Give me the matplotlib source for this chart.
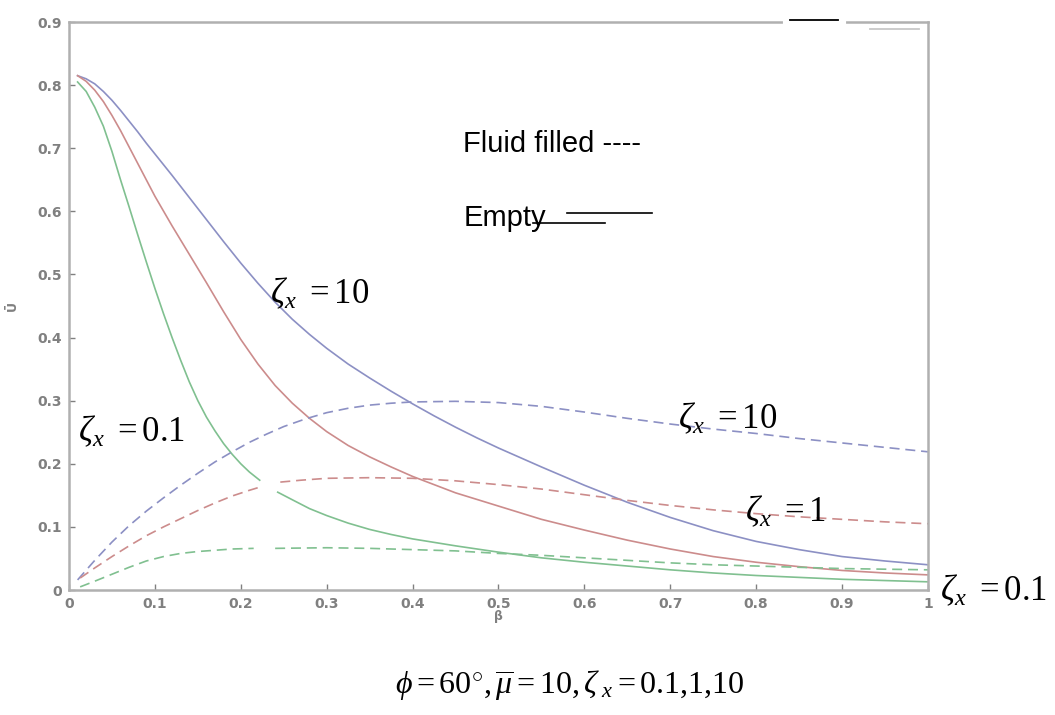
import matplotlib
matplotlib.use("Agg")
import matplotlib.pyplot as plt

plt.rcParams["mathtext.fontset"] = "custom"
plt.rcParams["mathtext.rm"] = "Liberation Serif"
plt.rcParams["mathtext.it"] = "Liberation Serif:italic"

# Empty shell (solid lines), zeta_x = 10, 1, 0.1
beta_e10 = [0.01, 0.02, 0.03, 0.04, 0.05, 0.06, 0.07, 0.08, 0.09, 0.10, 0.12, 0.14, 0.16,
            0.18, 0.20, 0.22, 0.24, 0.26, 0.28, 0.30, 0.325, 0.35, 0.375, 0.40, 0.425,
            0.45, 0.475, 0.5, 0.55, 0.6, 0.65, 0.7, 0.75, 0.8, 0.85, 0.9, 0.95, 1.0]
u_e10 = [0.815, 0.810, 0.802, 0.790, 0.776, 0.760, 0.743, 0.726, 0.708, 0.691, 0.657,
         0.622, 0.587, 0.552, 0.518, 0.486, 0.456, 0.429, 0.405, 0.383, 0.358, 0.336,
         0.315, 0.295, 0.276, 0.258, 0.241, 0.225, 0.195, 0.166, 0.139, 0.115, 0.094,
         0.077, 0.064, 0.053, 0.046, 0.040]

beta_e1 = [0.01, 0.02, 0.03, 0.04, 0.05, 0.06, 0.08, 0.10, 0.12, 0.14, 0.16, 0.18, 0.20,
           0.22, 0.24, 0.26, 0.28, 0.30, 0.325, 0.35, 0.375, 0.40, 0.45, 0.5, 0.55, 0.6,
           0.65, 0.7, 0.75, 0.8, 0.85, 0.9, 0.95, 1.0]
u_e1 = [0.815, 0.806, 0.792, 0.774, 0.752, 0.728, 0.676, 0.624, 0.577, 0.532, 0.487,
        0.441, 0.397, 0.358, 0.324, 0.296, 0.272, 0.251, 0.229, 0.211, 0.195, 0.180,
        0.154, 0.133, 0.112, 0.095, 0.079, 0.065, 0.053, 0.044, 0.037, 0.031, 0.027,
        0.024]

beta_e01a = [0.01, 0.02, 0.03, 0.04, 0.05, 0.06, 0.07, 0.08, 0.09, 0.10, 0.11, 0.12, 0.13,
             0.14, 0.15, 0.16, 0.17, 0.18, 0.19, 0.20, 0.21, 0.222]
u_e01a = [0.805, 0.790, 0.765, 0.735, 0.695, 0.650, 0.607, 0.563, 0.520, 0.478, 0.438,
          0.400, 0.364, 0.330, 0.300, 0.274, 0.252, 0.232, 0.215, 0.200, 0.187, 0.174]
beta_e01b = [0.243, 0.26, 0.28, 0.30, 0.325, 0.35, 0.375, 0.40, 0.45, 0.5, 0.55, 0.6, 0.65,
             0.7, 0.75, 0.8, 0.85, 0.9, 0.95, 1.0]
u_e01b = [0.155, 0.143, 0.129, 0.118, 0.106, 0.096, 0.088, 0.081, 0.070, 0.060, 0.051,
          0.044, 0.038, 0.032, 0.027, 0.023, 0.020, 0.017, 0.015, 0.013]

# Fluid filled (dashed lines)
beta_f10 = [0.01, 0.03, 0.05, 0.07, 0.09, 0.11, 0.13, 0.15, 0.17, 0.19, 0.21, 0.23, 0.25,
            0.275, 0.30, 0.325, 0.35, 0.375, 0.40, 0.45, 0.5, 0.55, 0.6, 0.65, 0.7, 0.75,
            0.8, 0.85, 0.9, 0.95, 1.0]
u_f10 = [0.016, 0.047, 0.076, 0.102, 0.125, 0.146, 0.166, 0.185, 0.203, 0.219, 0.234,
         0.247, 0.259, 0.271, 0.281, 0.288, 0.293, 0.296, 0.298, 0.299, 0.297, 0.291,
         0.282, 0.272, 0.263, 0.255, 0.248, 0.240, 0.233, 0.226, 0.219]

beta_f1a = [0.013, 0.03, 0.05, 0.07, 0.09, 0.11, 0.13, 0.15, 0.17, 0.19, 0.21, 0.222]
u_f1a = [0.019, 0.035, 0.053, 0.070, 0.086, 0.100, 0.113, 0.126, 0.138, 0.149, 0.158,
         0.163]
beta_f1b = [0.246, 0.27, 0.3, 0.35, 0.4, 0.45, 0.5, 0.55, 0.6, 0.65, 0.7, 0.75, 0.8, 0.85,
            0.9, 0.95, 1.0]
u_f1b = [0.171, 0.174, 0.177, 0.178, 0.177, 0.173, 0.167, 0.160, 0.151, 0.142, 0.134,
         0.127, 0.121, 0.116, 0.112, 0.108, 0.105]

beta_f01a = [0.013, 0.03, 0.05, 0.07, 0.09, 0.11, 0.13, 0.15, 0.17, 0.19, 0.215]
u_f01a = [0.005, 0.014, 0.025, 0.036, 0.046, 0.053, 0.058, 0.061, 0.063, 0.065, 0.066]
beta_f01b = [0.24, 0.3, 0.35, 0.4, 0.45, 0.5, 0.55, 0.6, 0.65, 0.7, 0.75, 0.8, 0.85, 0.9,
             0.95, 1.0]
u_f01b = [0.066, 0.067, 0.066, 0.064, 0.062, 0.058, 0.055, 0.051, 0.047, 0.043, 0.040,
          0.038, 0.036, 0.034, 0.033, 0.032]

blue = "#8c90c4"
red = "#cc8c8c"
green = "#80c090"
gray = "#808080"

fig = plt.figure(figsize=(10.55, 7.15), dpi=100)
ax = fig.add_axes([0.0654, 0.1748, 0.8142, 0.7944])

lw = 1.2
dash = (6, 3.5)
ax.plot(beta_e10, u_e10, color=blue, lw=lw)
ax.plot(beta_e1, u_e1, color=red, lw=lw)
ax.plot(beta_e01a, u_e01a, color=green, lw=lw)
ax.plot(beta_e01b, u_e01b, color=green, lw=lw)
ax.plot(beta_f10, u_f10, color=blue, lw=lw, dashes=dash)
ax.plot(beta_f1a, u_f1a, color=red, lw=lw, dashes=dash)
ax.plot(beta_f1b, u_f1b, color=red, lw=lw, dashes=dash)
ax.plot(beta_f01a, u_f01a, color=green, lw=lw, dashes=dash)
ax.plot(beta_f01b, u_f01b, color=green, lw=lw, dashes=dash)

ax.set_xlim(0, 1)
ax.set_ylim(0, 0.9)
ax.set_xticks([0, 0.1, 0.2, 0.3, 0.4, 0.5, 0.6, 0.7, 0.8, 0.9, 1])
ax.set_xticklabels(["0", "0.1", "0.2", "0.3", "0.4", "0.5", "0.6", "0.7", "0.8", "0.9", "1"])
ax.set_yticks([0, 0.1, 0.2, 0.3, 0.4, 0.5, 0.6, 0.7, 0.8, 0.9])
ax.set_yticklabels(["0", "0.1", "0.2", "0.3", "0.4", "0.5", "0.6", "0.7", "0.8", "0.9"])
ax.tick_params(direction="in", length=4, width=1, color=gray, labelcolor=gray,
               labelsize=10, pad=5)
for lab in ax.get_xticklabels() + ax.get_yticklabels():
    lab.set_fontweight("bold")
for sp in ax.spines.values():
    sp.set_color("#b0b0b0")
    sp.set_linewidth(1.8)

ax.set_xlabel("β", color=gray, fontsize=9, fontweight="bold")
ax.xaxis.set_label_coords(0.5, -0.036)
ax.set_ylabel("Ū", color=gray, fontsize=9, fontweight="bold")
ax.yaxis.set_label_coords(-0.058, 0.5)

# odd bits on the top frame
ax.plot([0.834, 0.902], [1.0, 1.0], transform=ax.transAxes, color="white", lw=3,
        clip_on=False, zorder=5)
ax.plot([0.839, 0.895], [1.003, 1.003], transform=ax.transAxes, color="black", lw=1.3,
        clip_on=False, zorder=6)
ax.plot([0.933, 0.99], [0.988, 0.988], transform=ax.transAxes, color="#c8c8c8", lw=1.3,
        clip_on=False, zorder=6)

# curve labels
tfs = 25
ax.text(0.234, 0.455, r"$\zeta_{x}\ =10$", fontsize=tfs)
ax.text(0.0105, 0.235, r"$\zeta_{x}\ =0.1$", fontsize=tfs)
ax.text(0.709, 0.257, r"$\zeta_{x}\ =10$", fontsize=tfs)
ax.text(0.787, 0.109, r"$\zeta_{x}\ =1$", fontsize=tfs)
ax.text(1.014, -0.016, r"$\zeta_{x}\ =0.1$", fontsize=tfs, clip_on=False)

# hand-made legend
ax.text(0.459, 0.694, "Fluid filled ----", fontsize=21, family="Liberation Sans")
ax.text(0.459, 0.577, "Empty", fontsize=21, family="Liberation Sans")
ax.plot([0.58, 0.679], [0.597, 0.597], color="black", lw=1.2)
ax.plot([0.54, 0.624], [0.582, 0.582], color="black", lw=1.2)

fig.text(0.374, 0.03, r"$\phi=60^{\circ},\overline{\mu}=10,\zeta_{\ x}=0.1{,}1{,}10$",
         fontsize=23)

fig.savefig("out.png", dpi=100)
